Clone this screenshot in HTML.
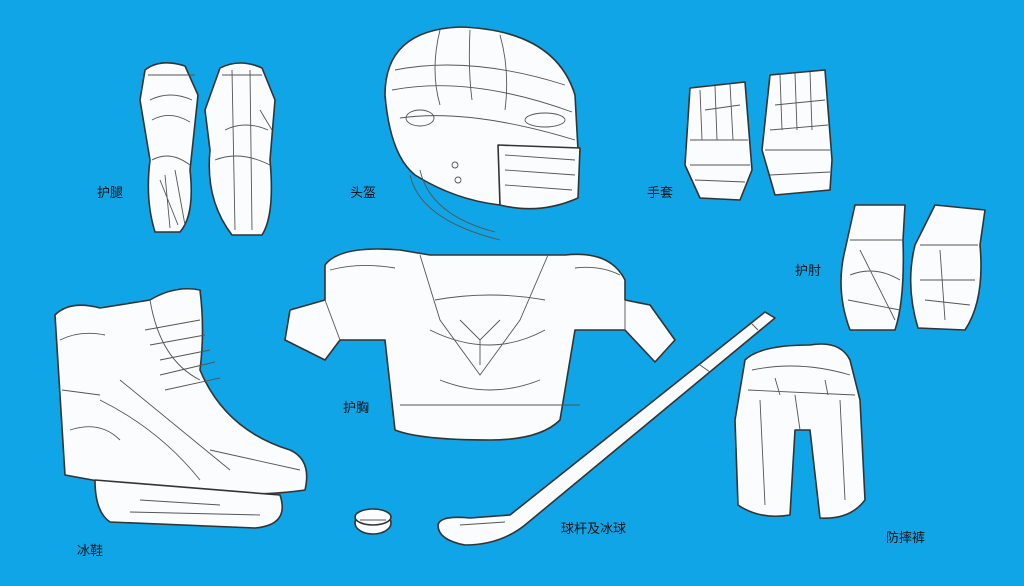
<!DOCTYPE html>
<html><head><meta charset="utf-8"><style>
html,body{margin:0;padding:0;background:#0fa5e6;}
svg{display:block}
text{font-family:"Liberation Sans","Noto Sans CJK SC",sans-serif;font-size:13px;fill:#111}
.w{fill:#fafcfd;stroke:#333;stroke-width:1.6;stroke-linejoin:round}
.l{fill:none;stroke:#555;stroke-width:0.9}
</style></head><body>
<svg width="1024" height="586" viewBox="0 0 1024 586">
<rect width="1024" height="586" fill="#0fa5e6"/>
<!-- shin guards -->
<path class="w" d="M145 70 Q160 58 185 66 L198 95 L190 170 Q195 215 180 232 L155 232 Q145 200 150 160 L140 100 Z"/>
<path class="l" d="M150 100 Q170 90 192 100 M152 160 Q170 150 190 165 M160 180 L178 225 M148 75 L195 75 M152 120 Q170 110 190 122 M165 175 L170 228 M175 170 L185 225"/>
<path class="w" d="M220 68 Q240 58 262 68 L275 100 L270 160 Q275 215 262 235 L232 235 Q205 200 210 150 L205 110 Z"/>
<path class="l" d="M232 70 L235 230 M250 70 L252 230 M225 130 Q245 120 268 130 M215 160 Q240 150 270 165 M260 110 L272 130 M222 75 L262 75"/>
<text x="97" y="197">护腿</text>
<!-- helmet -->
<path class="w" d="M385 95 Q385 30 460 27 Q555 30 575 95 L578 150 L500 150 L500 205 Q455 200 415 175 Q390 155 385 95 Z"/>
<path class="l" d="M392 90 Q470 75 572 112 M400 118 Q470 108 575 140 M440 30 Q430 70 440 105 M500 35 Q510 70 505 110 M395 70 Q470 55 565 85 M470 30 Q468 70 472 100"/>
<ellipse class="l" cx="420" cy="118" rx="14" ry="8"/><ellipse class="l" cx="545" cy="120" rx="20" ry="7"/>
<path class="w" d="M498 145 L580 148 L578 198 Q540 215 500 205 Z"/>
<path class="l" d="M505 155 L575 160 M505 170 L575 175 M505 185 L572 190"/>
<path class="l" d="M410 175 Q420 220 500 240 M420 170 Q430 215 495 232"/>
<circle class="l" cx="455" cy="165" r="3"/><circle class="l" cx="458" cy="180" r="3"/>
<text x="350" y="197">头盔</text>
<!-- gloves -->
<path class="w" d="M690 88 L745 82 L752 170 L740 200 L700 198 L685 165 Z"/>
<path class="l" d="M700 90 L702 140 M715 86 L717 140 M730 84 L733 140 M690 165 L750 165 M690 140 L748 140 M695 180 L745 182 M705 110 L740 105"/>
<path class="w" d="M770 75 L825 70 L832 160 L830 190 L775 195 L762 150 Z"/>
<path class="l" d="M780 75 L782 130 M795 73 L797 130 M810 72 L812 130 M765 150 L830 150 M770 130 L828 125 M770 175 L830 172 M775 105 L825 100"/>
<text x="647" y="197">手套</text>
<!-- elbow pads -->
<path class="w" d="M855 205 L905 205 L903 240 Q905 300 895 330 L850 330 Q835 290 845 250 Z"/>
<path class="l" d="M850 240 L902 240 M850 275 Q875 265 900 280 M848 300 L900 310 M860 250 L895 320"/>
<path class="w" d="M935 205 L985 210 L980 245 Q985 300 965 330 L918 328 Q905 285 915 245 Z"/>
<path class="l" d="M920 245 L978 245 M920 280 L975 280 M925 300 L970 305 M940 250 L945 320"/>
<text x="795" y="275">护肘</text>
<!-- chest protector -->
<path class="w" d="M325 265 Q340 245 400 250 L430 255 L565 255 Q610 250 625 280 L625 300 L650 305 L675 340 L655 362 L625 330 L575 330 L560 420 Q540 440 490 440 Q420 440 395 430 L385 340 L340 340 L325 360 L285 340 L290 310 L325 300 Z"/>
<path class="l" d="M420 255 L440 320 L480 375 L520 320 L548 255 M430 330 Q490 360 545 330 M400 405 L580 405 M435 300 Q490 290 545 300 M460 320 L480 340 L500 320 M480 340 L480 365 M325 300 L340 340 M625 300 L625 330 M440 380 Q490 400 540 380 M330 270 Q360 262 395 268 M575 268 Q600 265 620 275"/>
<text x="343" y="412">护胸</text>
<!-- skate -->
<path class="w" d="M55 315 Q70 300 100 308 L150 300 Q175 285 200 290 Q205 330 200 370 Q225 430 290 450 Q312 460 305 490 Q240 500 120 485 L65 475 Z"/>
<path class="l" d="M150 300 Q160 360 200 380 M120 380 L230 470 M100 400 Q160 430 200 480 M145 330 L200 320 M150 345 L205 335 M160 360 L210 350 M160 375 L215 362 M165 390 L220 378 M60 340 Q80 330 105 335 M62 390 L100 395 M70 430 Q100 420 120 440 M210 450 L300 470"/>
<path class="w" d="M95 480 L280 495 Q290 525 255 528 L110 522 Q95 512 95 480 Z"/>
<path class="l" d="M140 500 L220 505 M130 512 L260 515"/>
<text x="77" y="555">冰鞋</text>
<!-- puck -->
<ellipse class="w" cx="373" cy="523" rx="18" ry="11"/>
<ellipse class="w" cx="373" cy="517" rx="18" ry="8"/>
<path class="l" d="M360 520 L386 520"/>
<!-- stick -->
<path class="w" d="M765 312 L775 318 L525 525 Q500 545 465 545 Q438 540 438 525 Q440 515 470 518 L510 515 Z"/>
<path class="l" d="M700 365 L710 372 M460 525 L505 522 M750 322 L758 330"/>
<text x="561" y="533">球杆及冰球</text>
<!-- pants -->
<path class="w" d="M745 360 Q760 345 810 345 Q840 340 850 360 L860 400 L865 500 Q850 520 820 518 L810 430 L795 430 L790 515 Q760 520 738 505 L735 420 Z"/>
<path class="l" d="M748 390 L855 395 M795 395 L800 430 M760 400 L765 505 M840 400 L845 500 M752 370 Q800 360 850 375 M775 378 L780 395 M825 380 L828 395"/>
<text x="886" y="542">防摔裤</text>
</svg>
</body></html>
